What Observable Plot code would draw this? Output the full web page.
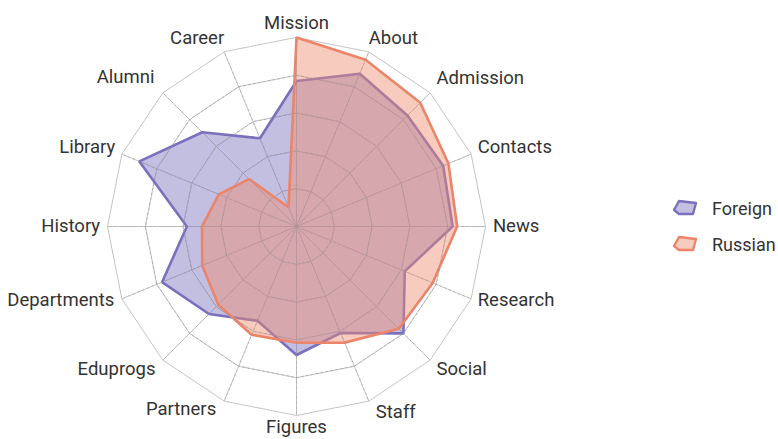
<!DOCTYPE html>
<html>
<head>
<meta charset="utf-8">
<script src="https://cdn.jsdelivr.net/npm/d3@7"></script>
<script src="https://cdn.jsdelivr.net/npm/@observablehq/plot@0.6"></script>
<style>
  html, body { margin: 0; padding: 0; background: #fff; }
  #wrap { position: relative; width: 778px; height: 439px; }
  #legend { position: absolute; left: 672px; top: 190px; font-family: Roboto, "DejaVu Sans Condensed", sans-serif; font-size: 18px; color: #333; }
  .item { display: flex; align-items: center; height: 36px; }
  .item svg { margin-right: 14px; }
</style>
</head>
<body>
<div id="wrap"></div>
<script>
const categories = ["Mission","About","Admission","Contacts","News","Research","Social","Staff","Figures","Partners","Eduprogs","Departments","History","Library","Alumni","Career"];
const foreign = [0.77,0.875,0.83,0.84,0.826,0.62,0.80,0.61,0.68,0.54,0.655,0.77,0.58,0.90,0.705,0.505];
const russian = [1.0,0.955,0.926,0.87,0.85,0.78,0.765,0.665,0.615,0.62,0.585,0.54,0.50,0.445,0.355,0.11];
const seriesNames = ["Foreign","Russian"];
const seriesValues = [foreign, russian];
const strokeColors = ["#7a70bd","#ec8469"];
const fillColors = ["#7a70bd","#ee8c6e"];
const rings = [0.2,0.4,0.6,0.8,1.0];

// small label nudges, in pixels (layout only)
const labelDx = [0,-4,-1,-3,-3,-3,-1,3,0,-4,0,2,3,3,-1,4];
const labelDy = [0,-4,-7,-3,0,-3,2,1,-3,-2,2,-3,0,-3,-8,-4];
const PXU = 189; // pixels per unit radius

const n = categories.length;
const ang = i => i * 2 * Math.PI / n;
const px = (i, r) => r * Math.sin(ang(i));
const py = (i, r) => r * Math.cos(ang(i));

const pts = seriesNames.flatMap((s, k) => seriesValues[k].map((v, i) => ({series: s, k, x: px(i, v), y: py(i, v)})));
const ringPts = rings.flatMap(r => categories.map((c, i) => ({r, x: px(i, r), y: py(i, r)})));
const spokes = categories.map((c, i) => ({x1: 0, y1: 0, x2: px(i, 1), y2: py(i, 1)}));

const labels = categories.map((c, i) => {
  const s = Math.sin(ang(i)), co = Math.cos(ang(i));
  const anchor = Math.abs(s) < 0.1 ? "middle" : (s > 0 ? "start" : "end");
  const r = anchor === "middle" ? 1.075 : 1.055;
  return {c, anchor, x: r * s + labelDx[i] / PXU, y: r * co - labelDy[i] / PXU};
});

const gridColor = "#c4c4c4";
const font = 'Roboto, "DejaVu Sans Condensed", sans-serif';

const marks = [
  Plot.line(ringPts, {x: "x", y: "y", z: "r", curve: "linear-closed", stroke: gridColor, strokeWidth: 1}),
  Plot.link(spokes, {x1: "x1", y1: "y1", x2: "x2", y2: "y2", stroke: gridColor, strokeWidth: 1})
];
seriesNames.forEach((s, k) => {
  marks.push(Plot.line(pts.filter(d => d.k === k), {x: "x", y: "y", curve: "linear-closed", fill: fillColors[k], fillOpacity: 0.45, stroke: strokeColors[k], strokeWidth: 2.6, strokeLinejoin: "miter"}));
});
marks.push(
  Plot.line(ringPts.filter(d => d.r < 1), {x: "x", y: "y", z: "r", curve: "linear-closed", stroke: "#a09a9a", strokeOpacity: 0.6, strokeWidth: 1, strokeDasharray: "2,3"}),
  Plot.link(spokes, {x1: "x1", y1: "y1", x2: "x2", y2: "y2", stroke: "#a09a9a", strokeOpacity: 0.6, strokeWidth: 1, strokeDasharray: "2,3"})
);
["start","middle","end"].forEach(a => {
  marks.push(Plot.text(labels.filter(d => d.anchor === a), {x: "x", y: "y", text: "c", textAnchor: a, lineAnchor: "middle", fontSize: 18.5, fill: "#333", fontFamily: font}));
});

const chart = Plot.plot({
  width: 778,
  height: 439,
  marginLeft: 107,
  marginRight: 293,
  marginTop: 37,
  marginBottom: 24,
  x: {domain: [-1, 1], axis: null},
  y: {domain: [-1, 1], axis: null},
  style: {background: "#fff", fontFamily: font},
  marks
});
const wrap = document.getElementById("wrap");
wrap.appendChild(chart);

const legend = document.createElement("div");
legend.id = "legend";
seriesNames.forEach((s, k) => {
  const item = document.createElement("div");
  item.className = "item";
  item.innerHTML = `<svg width="26" height="18" viewBox="0 0 26 18"><polygon points="2,11 7,2 24,4 21,15 7,15" fill="${fillColors[k]}" fill-opacity="0.45" stroke="${strokeColors[k]}" stroke-width="2.4" stroke-linejoin="round"/></svg><span>${s}</span>`;
  legend.appendChild(item);
});
wrap.appendChild(legend);
</script>
</body>
</html>
